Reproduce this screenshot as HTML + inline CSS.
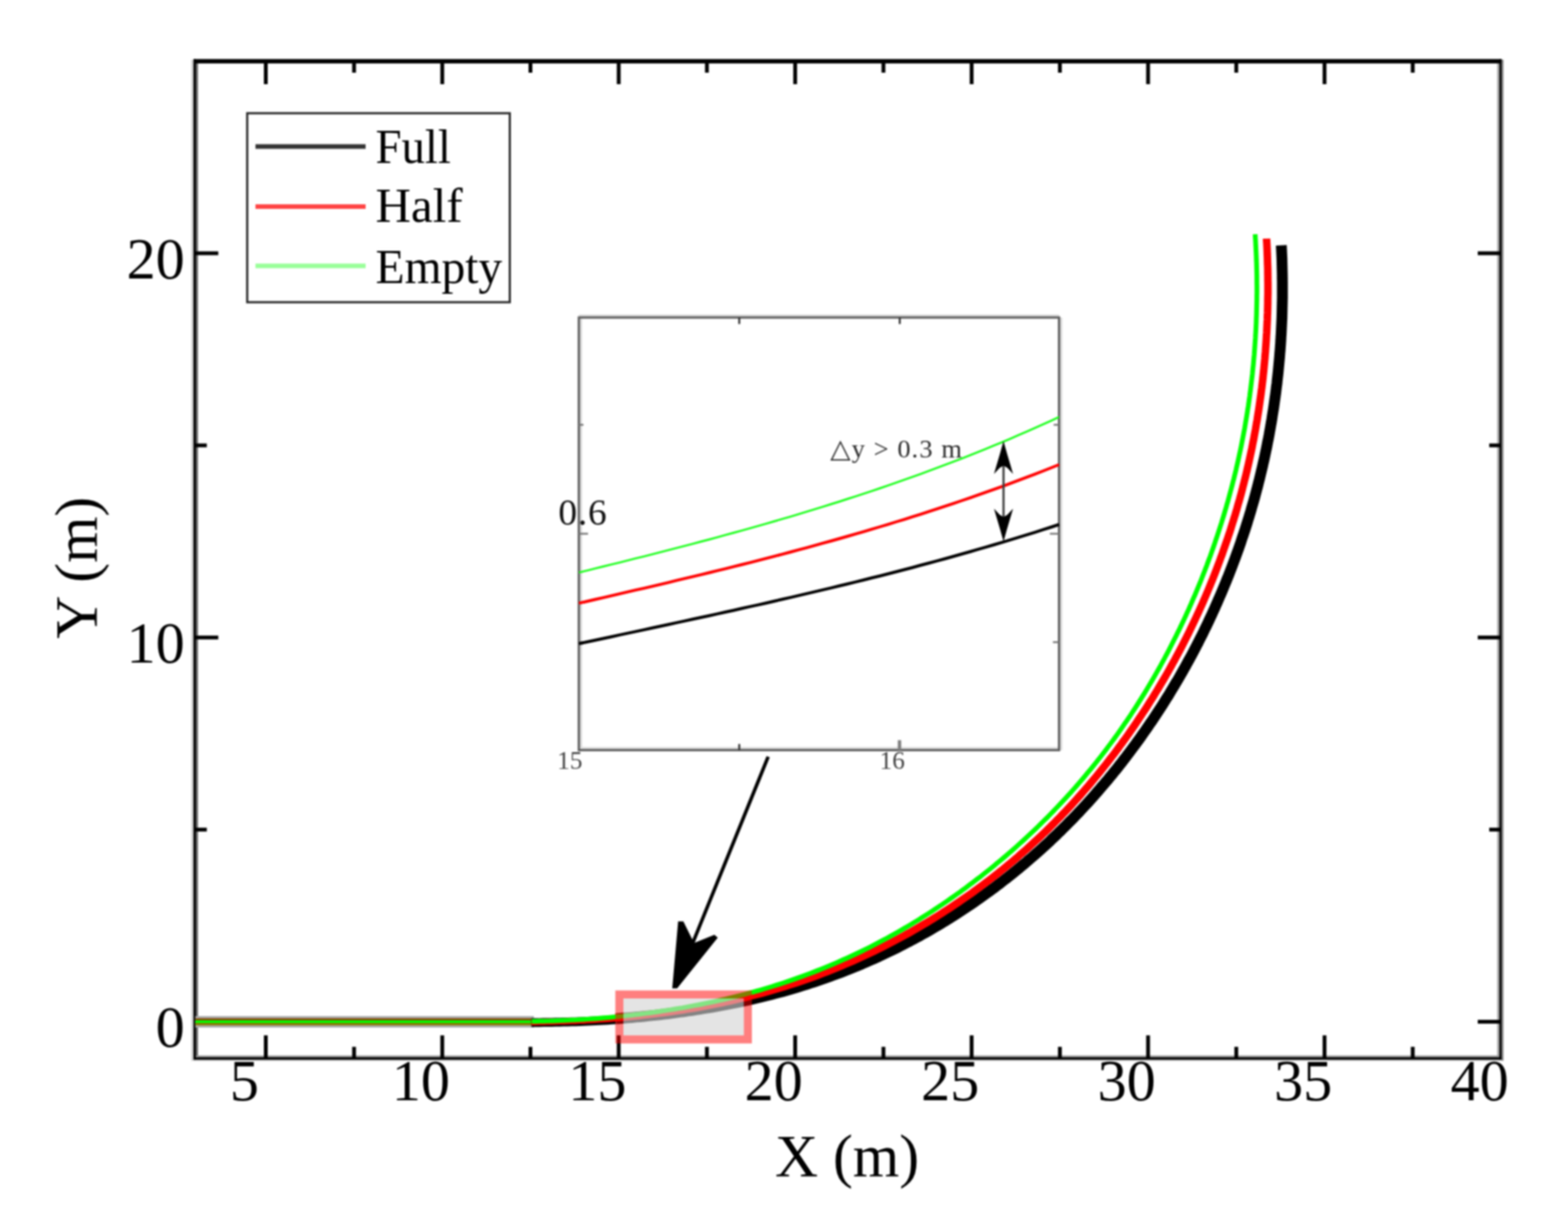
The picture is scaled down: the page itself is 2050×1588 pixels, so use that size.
<!DOCTYPE html>
<html lang="en">
<head>
<meta charset="utf-8">
<title>Trajectory plot</title>
<style>
html,body{margin:0;padding:0;background:#fff;}
body{width:2050px;height:1588px;overflow:hidden;}
svg{display:block;filter:blur(0.9px);}
</style>
</head>
<body>
<svg width="2050" height="1588" viewBox="0 0 2050 1588" role="img" aria-label="Vehicle trajectories for full, half and empty load">
<rect x="0" y="0" width="2050" height="1588" fill="#ffffff"/>
<g>
<rect x="250.1" y="78.0" width="3.0" height="1308.4" fill="#cccccc"/>
<rect x="255.9" y="80.0" width="3.0" height="1303.0" fill="#666666"/>
<rect x="1957.4" y="80.0" width="3.0" height="1303.0" fill="#a8a8a8"/>
<rect x="1963.1" y="78.0" width="2.6" height="1308.4" fill="#888888"/>
<rect x="253.0" y="1379.6" width="1710.2" height="2.5" fill="#8e8e8e"/>
<rect x="253.0" y="1384.8" width="1710.2" height="1.6" fill="#adadad"/>
<rect x="253.0" y="77.2" width="3.0" height="1307.7" fill="#000"/>
<rect x="1960.3" y="77.2" width="2.9" height="1307.7" fill="#000"/>
<rect x="253.0" y="1382.0" width="1710.2" height="2.9" fill="#000"/>
<rect x="253.0" y="77.2" width="1710.2" height="5.7" fill="#000"/>
</g>
<g stroke="#000" stroke-width="5.0">
<line x1="347.5" y1="1383.2" x2="347.5" y2="1353.2"/>
<line x1="347.5" y1="80.0" x2="347.5" y2="110.0"/>
<line x1="578.2" y1="1383.2" x2="578.2" y2="1353.2"/>
<line x1="578.2" y1="80.0" x2="578.2" y2="110.0"/>
<line x1="808.9" y1="1383.2" x2="808.9" y2="1353.2"/>
<line x1="808.9" y1="80.0" x2="808.9" y2="110.0"/>
<line x1="1039.6" y1="1383.2" x2="1039.6" y2="1353.2"/>
<line x1="1039.6" y1="80.0" x2="1039.6" y2="110.0"/>
<line x1="1270.3" y1="1383.2" x2="1270.3" y2="1353.2"/>
<line x1="1270.3" y1="80.0" x2="1270.3" y2="110.0"/>
<line x1="1501.0" y1="1383.2" x2="1501.0" y2="1353.2"/>
<line x1="1501.0" y1="80.0" x2="1501.0" y2="110.0"/>
<line x1="1731.7" y1="1383.2" x2="1731.7" y2="1353.2"/>
<line x1="1731.7" y1="80.0" x2="1731.7" y2="110.0"/>
<line x1="462.9" y1="1383.2" x2="462.9" y2="1368.2"/>
<line x1="462.9" y1="80.0" x2="462.9" y2="95.0"/>
<line x1="693.5" y1="1383.2" x2="693.5" y2="1368.2"/>
<line x1="693.5" y1="80.0" x2="693.5" y2="95.0"/>
<line x1="924.2" y1="1383.2" x2="924.2" y2="1368.2"/>
<line x1="924.2" y1="80.0" x2="924.2" y2="95.0"/>
<line x1="1155.0" y1="1383.2" x2="1155.0" y2="1368.2"/>
<line x1="1155.0" y1="80.0" x2="1155.0" y2="95.0"/>
<line x1="1385.7" y1="1383.2" x2="1385.7" y2="1368.2"/>
<line x1="1385.7" y1="80.0" x2="1385.7" y2="95.0"/>
<line x1="1616.3" y1="1383.2" x2="1616.3" y2="1368.2"/>
<line x1="1616.3" y1="80.0" x2="1616.3" y2="95.0"/>
<line x1="1847.0" y1="1383.2" x2="1847.0" y2="1368.2"/>
<line x1="1847.0" y1="80.0" x2="1847.0" y2="95.0"/>
<line x1="255.4" y1="1335.4" x2="285.4" y2="1335.4"/>
<line x1="1962.0" y1="1335.4" x2="1932.0" y2="1335.4"/>
<line x1="255.4" y1="833.2" x2="285.4" y2="833.2"/>
<line x1="1962.0" y1="833.2" x2="1932.0" y2="833.2"/>
<line x1="255.4" y1="331.0" x2="285.4" y2="331.0"/>
<line x1="1962.0" y1="331.0" x2="1932.0" y2="331.0"/>
<line x1="255.4" y1="1084.3" x2="270.4" y2="1084.3"/>
<line x1="1962.0" y1="1084.3" x2="1947.0" y2="1084.3"/>
<line x1="255.4" y1="582.1" x2="270.4" y2="582.1"/>
<line x1="1962.0" y1="582.1" x2="1947.0" y2="582.1"/>
</g>
<g>
<rect x="255.4" y="1328.0" width="442.6" height="15.0" fill="#aaaaaa"/>
<rect x="255.4" y="1331.0" width="442.6" height="3.0" fill="#884400"/>
<rect x="255.4" y="1333.6" width="442.6" height="3.9" fill="#00ff00"/>
<rect x="255.4" y="1337.0" width="442.6" height="3.0" fill="#887700"/>
</g>
<g fill="none" stroke-linejoin="round" stroke-linecap="butt">
<path d="M694.7 1336.5 L700.0 1336.4 L705.2 1336.4 L710.5 1336.3 L715.8 1336.2 L721.0 1336.2 L726.3 1336.0 L731.6 1335.9 L736.8 1335.8 L742.1 1335.7 L747.4 1335.5 L752.6 1335.4 L757.9 1335.2 L763.1 1335.0 L768.4 1334.8 L773.6 1334.5 L778.9 1334.3 L784.2 1334.0 L789.4 1333.7 L794.7 1333.4 L799.9 1333.0 L805.2 1332.7" stroke="#000000" stroke-width="11.5"/>
<path d="M805.2 1331.5 L810.4 1331.1 L815.7 1330.7 L820.9 1330.2 L826.2 1329.8 L831.4 1329.3 L836.7 1328.9 L841.9 1328.4 L847.2 1327.8 L852.4 1327.3 L857.6 1326.7 L862.9 1326.1 L868.1 1325.5 L873.3 1324.9 L878.6 1324.2 L883.8 1323.5 L889.0 1322.8 L894.2 1322.1 L899.5 1321.3 L904.7 1320.6 L909.9 1319.8 L915.1 1319.0 L920.3 1318.1 L925.5 1317.3 L930.7 1316.4 L935.9 1315.5 L941.1 1314.5 L946.3 1313.6 L951.5 1312.6 L956.6 1311.6 L961.8 1310.5 L967.0 1309.5 L972.2 1308.3 L977.3 1307.2 L982.5 1306.1 L987.6 1304.9 L992.8 1303.7 L997.9 1302.4 L1003.0 1301.2 L1008.2 1299.9 L1013.3 1298.5 L1018.4 1297.2 L1023.5 1295.8 L1028.6 1294.4 L1033.7 1292.9 L1038.8 1291.4 L1043.8 1289.9 L1048.9 1288.3 L1054.0 1286.8 L1059.0 1285.1 L1064.1 1283.5 L1069.1 1281.8 L1074.1 1280.1 L1079.1 1278.3 L1084.1 1276.6 L1089.1 1274.7 L1094.1 1272.9 L1099.1 1271.0 L1104.0 1269.1 L1109.0 1267.2 L1113.9 1265.2 L1118.9 1263.2 L1123.8 1261.1 L1127.5 1259.6 L1132.3 1257.5 L1137.2 1255.3 L1142.1 1253.2 L1145.8 1251.5 L1149.4 1249.9 L1154.2 1247.6 L1157.9 1245.9 L1161.5 1244.2 L1166.3 1241.9 L1169.9 1240.1 L1173.5 1238.3 L1177.1 1236.5 L1180.6 1234.7 L1184.2 1232.8 L1187.8 1231.0 L1191.3 1229.1 L1194.8 1227.2 L1198.4 1225.3 L1201.9 1223.4 L1205.4 1221.4 L1208.9 1219.5 L1212.4 1217.5 L1215.9 1215.5 L1219.4 1213.4 L1222.9 1211.4 L1226.4 1209.3 L1229.8 1207.3 L1233.3 1205.2 L1236.7 1203.1 L1240.2 1201.0 L1243.6 1198.8 L1247.0 1196.7 L1250.4 1194.5 L1253.8 1192.3 L1257.2 1190.1 L1260.5 1187.9 L1263.9 1185.6 L1267.3 1183.4 L1270.6 1181.1 L1274.0 1178.8 L1277.3 1176.5 L1280.6 1174.2 L1283.9 1171.8 L1287.2 1169.5 L1290.5 1167.1 L1293.8 1164.7 L1297.0 1162.3 L1300.3 1159.9 L1303.6 1157.4 L1306.8 1155.0 L1310.0 1152.5 L1313.2 1150.0 L1316.5 1147.5 L1319.6 1145.0 L1322.8 1142.4 L1326.0 1139.9 L1329.2 1137.3 L1332.3 1134.7 L1335.5 1132.1 L1338.6 1129.5 L1341.7 1126.9 L1344.8 1124.2 L1347.9 1121.5 L1351.0 1118.9 L1354.1 1116.2 L1357.1 1113.5 L1360.2 1110.7 L1363.2 1108.0 L1366.2 1105.2 L1369.3 1102.4 L1372.3 1099.7 L1375.2 1096.8 L1378.2 1094.0 L1381.2 1091.2 L1384.1 1088.3 L1387.1 1085.5 L1390.0 1082.6 L1392.9 1079.7 L1395.8 1076.8 L1398.7 1073.8 L1401.6 1070.9 L1404.5 1068.0 L1407.3 1065.0 L1410.2 1062.0 L1413.0 1059.0 L1415.8 1056.0 L1418.6 1053.0 L1421.4 1049.9 L1424.2 1046.9 L1426.9 1043.8 L1429.7 1040.7 L1432.4 1037.6 L1435.1 1034.5 L1437.8 1031.4 L1440.5 1028.2 L1443.2 1025.1 L1445.9 1021.9 L1448.6 1018.8 L1451.2 1015.6 L1453.8 1012.4 L1456.5 1009.1 L1459.1 1005.9 L1461.7 1002.7 L1464.2 999.4 L1466.8 996.2 L1469.3 992.9 L1471.9 989.6 L1474.4 986.3 L1476.9 983.0 L1479.4 979.6 L1481.9 976.3 L1484.4 973.0 L1486.8 969.6 L1489.3 966.2 L1491.7 962.8 L1494.1 959.4 L1496.5 956.0 L1498.9 952.6 L1501.3 949.2 L1503.6 945.7 L1506.0 942.3 L1508.3 938.8 L1510.6 935.3 L1512.9 931.8 L1515.2 928.3 L1517.5 924.8 L1519.8 921.3 L1522.0 917.8 L1524.2 914.2 L1526.5 910.7 L1528.7 907.1 L1530.8 903.5 L1533.0 899.9 L1535.2 896.3 L1537.3 892.7 L1539.5 889.1 L1541.6 885.5 L1543.7 881.8 L1545.8 878.2 L1547.8 874.5 L1549.9 870.9 L1551.9 867.2 L1553.9 863.5 L1556.0 859.8 L1558.0 856.1 L1559.9 852.4 L1561.9 848.6 L1563.8 844.9 L1565.8 841.2 L1567.7 837.4 L1569.6 833.6 L1571.5 829.9 L1573.4 826.1 L1575.2 822.3 L1577.1 818.5 L1578.9 814.7 L1580.7 810.9 L1582.5 807.0 L1584.3 803.2 L1586.0 799.4 L1587.8 795.5 L1589.5 791.7 L1591.2 787.8 L1592.9 783.9 L1594.6 780.0 L1596.3 776.1 L1598.0 772.2 L1599.6 768.3 L1601.2 764.4 L1602.8 760.5 L1604.4 756.5 L1606.0 752.6 L1607.5 748.7 L1609.1 744.7 L1610.6 740.7 L1612.1 736.8 L1613.6 732.8 L1615.1 728.8 L1616.5 724.8 L1618.0 720.8 L1619.4 716.8 L1620.8 712.8 L1622.2 708.8 L1623.5 704.7 L1624.9 700.7 L1626.2 696.7 L1627.6 692.6 L1628.9 688.5 L1630.2 684.5 L1631.4 680.4 L1632.7 676.4 L1633.9 672.3 L1635.2 668.2 L1636.3 664.1 L1637.5 660.0 L1638.7 655.9 L1639.9 651.8 L1641.0 647.7 L1642.1 643.5 L1643.2 639.4 L1644.3 635.3 L1645.3 631.1 L1646.4 627.0 L1647.4 622.9 L1648.4 618.7 L1649.4 614.5 L1650.4 610.4 L1651.3 606.2 L1652.3 602.0 L1653.2 597.9 L1654.1 593.7 L1655.0 589.5 L1655.9 585.3 L1656.7 581.1 L1657.5 576.9 L1658.4 572.7 L1659.2 568.5 L1659.9 564.3 L1660.7 560.0 L1661.4 555.8 L1662.2 551.6 L1662.9 547.4 L1663.5 543.1 L1664.2 538.9 L1664.9 534.7 L1665.5 530.4 L1666.1 526.2 L1666.7 522.0 L1667.3 517.7 L1667.9 513.5 L1668.4 509.2 L1668.9 504.9 L1669.5 500.7 L1669.9 496.4 L1670.4 492.1 L1670.9 487.9 L1671.3 483.6 L1671.7 479.3 L1672.1 475.1 L1672.5 470.8 L1672.9 466.5 L1673.2 462.2 L1673.6 457.9 L1673.9 453.7 L1674.2 449.4 L1674.5 445.1 L1674.7 440.8 L1675.0 436.5 L1675.2 432.2 L1675.4 427.9 L1675.6 423.6 L1675.8 419.4 L1676.0 415.1 L1676.1 410.8 L1676.2 406.5 L1676.3 402.2 L1676.4 397.9 L1676.5 393.6 L1676.6 389.3 L1676.6 385.0 L1676.6 380.7 L1676.6 376.4 L1676.6 372.1 L1676.6 367.8 L1676.5 363.5 L1676.5 359.2 L1676.4 354.9 L1676.3 350.6 L1676.2 346.3 L1676.1 342.0 L1676.0 337.7 L1675.8 333.4 L1675.6 329.1 L1675.4 324.9 L1675.2 320.6" stroke="#000000" stroke-width="14.2"/>
<path d="M694.9 1336.0 L700.1 1335.9 L705.3 1335.8 L710.6 1335.7 L715.8 1335.6 L721.0 1335.4 L726.3 1335.3 L731.5 1335.1 L736.7 1335.0 L742.0 1334.8 L747.2 1334.6 L752.4 1334.4 L757.6 1334.1 L762.9 1333.9 L768.1 1333.6 L773.3 1333.3 L778.6 1333.0 L783.8 1332.6 L789.0 1332.3 L794.2 1331.9 L799.5 1331.5 L804.7 1331.1 L809.9 1330.7" stroke="#ff0000" stroke-width="8.0"/>
<path d="M804.7 1330.2 L809.9 1329.8 L815.1 1329.3 L820.3 1328.8 L825.5 1328.3 L830.8 1327.8 L836.0 1327.3 L841.2 1326.7 L846.4 1326.1 L851.6 1325.5 L856.8 1324.9 L862.0 1324.2 L867.2 1323.6 L872.4 1322.9 L877.6 1322.1 L882.8 1321.4 L887.9 1320.6 L893.1 1319.8 L898.3 1319.0 L903.5 1318.1 L908.6 1317.3 L913.8 1316.4 L919.0 1315.4 L924.1 1314.5 L929.3 1313.5 L934.4 1312.5 L939.6 1311.5 L944.7 1310.4 L949.9 1309.3 L955.0 1308.2 L960.1 1307.0 L965.2 1305.8 L970.4 1304.6 L975.5 1303.4 L980.6 1302.1 L985.7 1300.8 L990.8 1299.5 L995.8 1298.2 L1000.9 1296.8 L1006.0 1295.3 L1011.0 1293.9 L1016.1 1292.4 L1021.1 1290.9 L1026.2 1289.3 L1031.2 1287.7 L1036.2 1286.1 L1041.2 1284.5 L1046.2 1282.8 L1051.2 1281.1 L1056.2 1279.3 L1061.2 1277.6 L1066.1 1275.8 L1071.1 1273.9 L1076.0 1272.0 L1081.0 1270.1 L1085.9 1268.2 L1090.8 1266.2 L1095.7 1264.2 L1100.6 1262.2 L1105.5 1260.1 L1110.3 1258.0 L1115.2 1255.9 L1120.0 1253.8 L1124.9 1251.6 L1129.7 1249.4 L1134.5 1247.1 L1139.3 1244.8 L1144.1 1242.5 L1148.9 1240.2 L1153.6 1237.8 L1158.4 1235.4 L1163.1 1233.0 L1167.8 1230.5 L1172.5 1228.0 L1177.2 1225.5 L1181.9 1223.0 L1186.6 1220.4 L1190.1 1218.4 L1194.7 1215.8 L1198.2 1213.8 L1201.6 1211.8 L1206.2 1209.1 L1209.7 1207.0 L1213.1 1205.0 L1216.5 1202.9 L1220.0 1200.8 L1223.4 1198.7 L1226.8 1196.5 L1230.2 1194.4 L1233.6 1192.2 L1236.9 1190.0 L1240.3 1187.8 L1243.7 1185.6 L1247.0 1183.4 L1250.3 1181.2 L1253.7 1178.9 L1257.0 1176.6 L1260.3 1174.3 L1263.6 1172.0 L1266.9 1169.7 L1270.2 1167.4 L1273.5 1165.0 L1276.7 1162.6 L1280.0 1160.2 L1283.2 1157.8 L1286.5 1155.4 L1289.7 1153.0 L1292.9 1150.5 L1296.1 1148.1 L1299.3 1145.6 L1302.5 1143.1 L1305.7 1140.6 L1308.8 1138.0 L1312.0 1135.5 L1315.1 1132.9 L1318.2 1130.4 L1321.4 1127.8 L1324.5 1125.2 L1327.6 1122.5 L1330.7 1119.9 L1333.7 1117.2 L1336.8 1114.5 L1339.8 1111.9 L1342.9 1109.2 L1345.9 1106.4 L1348.9 1103.7 L1351.9 1100.9 L1354.9 1098.2 L1357.9 1095.4 L1360.9 1092.6 L1363.8 1089.8 L1366.8 1086.9 L1369.7 1084.1 L1372.6 1081.2 L1375.5 1078.3 L1378.4 1075.5 L1381.2 1072.5 L1384.1 1069.6 L1387.0 1066.7 L1389.8 1063.7 L1392.6 1060.8 L1395.4 1057.8 L1398.2 1054.8 L1401.0 1051.8 L1403.8 1048.7 L1406.5 1045.7 L1409.3 1042.6 L1412.0 1039.6 L1414.7 1036.5 L1417.4 1033.4 L1420.1 1030.3 L1422.8 1027.2 L1425.5 1024.0 L1428.1 1020.9 L1430.8 1017.7 L1433.4 1014.5 L1436.0 1011.3 L1438.6 1008.1 L1441.2 1004.9 L1443.7 1001.7 L1446.3 998.5 L1448.8 995.2 L1451.4 991.9 L1453.9 988.6 L1456.4 985.4 L1458.9 982.1 L1461.4 978.8 L1463.8 975.4 L1466.3 972.1 L1468.7 968.7 L1471.2 965.4 L1473.6 962.0 L1476.0 958.6 L1478.3 955.2 L1480.7 951.8 L1483.1 948.4 L1485.4 945.0 L1487.7 941.5 L1490.0 938.1 L1492.3 934.6 L1494.6 931.1 L1496.9 927.7 L1499.2 924.2 L1501.4 920.7 L1503.6 917.1 L1505.9 913.6 L1508.1 910.1 L1510.2 906.5 L1512.4 903.0 L1514.6 899.4 L1516.7 895.8 L1518.8 892.2 L1521.0 888.6 L1523.1 885.0 L1525.2 881.4 L1527.2 877.8 L1529.3 874.1 L1531.3 870.5 L1533.3 866.8 L1535.4 863.2 L1537.3 859.5 L1539.3 855.8 L1541.3 852.1 L1543.3 848.4 L1545.2 844.7 L1547.1 841.0 L1549.0 837.2 L1550.9 833.5 L1552.8 829.7 L1554.7 826.0 L1556.5 822.2 L1558.3 818.4 L1560.1 814.6 L1561.9 810.8 L1563.7 807.0 L1565.5 803.2 L1567.2 799.4 L1569.0 795.5 L1570.7 791.7 L1572.4 787.9 L1574.1 784.0 L1575.8 780.1 L1577.4 776.3 L1579.1 772.4 L1580.7 768.5 L1582.3 764.6 L1583.9 760.7 L1585.5 756.8 L1587.0 752.9 L1588.6 748.9 L1590.1 745.0 L1591.6 741.0 L1593.1 737.1 L1594.6 733.1 L1596.0 729.2 L1597.5 725.2 L1598.9 721.2 L1600.3 717.2 L1601.7 713.2 L1603.1 709.2 L1604.5 705.2 L1605.8 701.2 L1607.2 697.2 L1608.5 693.2 L1609.8 689.1 L1611.0 685.1 L1612.3 681.1 L1613.5 677.0 L1614.8 673.0 L1616.0 668.9 L1617.2 664.8 L1618.3 660.7 L1619.5 656.7 L1620.7 652.6 L1621.8 648.5 L1622.9 644.4 L1624.0 640.3 L1625.0 636.2 L1626.1 632.0 L1627.1 627.9 L1628.2 623.8 L1629.2 619.7 L1630.2 615.5 L1631.1 611.4 L1632.1 607.2 L1633.0 603.1 L1633.9 599.0 L1634.8 594.8 L1635.7 590.6 L1636.6 586.5 L1637.4 582.3 L1638.2 578.1 L1639.1 573.9 L1639.8 569.7 L1640.6 565.6 L1641.4 561.4 L1642.1 557.2 L1642.8 553.0 L1643.6 548.8 L1644.2 544.6 L1644.9 540.4 L1645.6 536.1 L1646.2 531.9 L1646.8 527.7 L1647.4 523.5 L1648.0 519.3 L1648.6 515.0 L1649.1 510.8 L1649.7 506.6 L1650.2 502.3 L1650.7 498.1 L1651.2 493.9 L1651.6 489.6 L1652.1 485.4 L1652.5 481.1 L1652.9 476.9 L1653.3 472.6 L1653.7 468.4 L1654.0 464.1 L1654.4 459.9 L1654.7 455.6 L1655.0 451.3 L1655.3 447.1 L1655.6 442.8 L1655.8 438.6 L1656.1 434.3 L1656.3 430.0 L1656.5 425.8 L1656.7 421.5 L1656.9 417.2 L1657.0 412.9 L1657.2 408.7 L1657.3 404.4 L1657.4 400.1 L1657.5 395.9 L1657.5 391.6 L1657.6 387.3 L1657.7 383.1 L1657.7 378.8 L1657.7 374.5 L1657.7 370.2 L1657.6 366.0 L1657.6 361.7 L1657.5 357.4 L1657.5 353.1 L1657.4 348.9 L1657.2 344.6 L1657.1 340.3 L1657.0 336.1 L1656.8 331.8 L1656.7 327.5 L1656.5 323.3 L1656.3 319.0 L1656.0 314.7 L1655.9 311.9" stroke="#ff0000" stroke-width="9.8"/>
<path d="M695.3 1334.9 L700.5 1334.8 L705.7 1334.7 L710.9 1334.6 L716.1 1334.5 L721.3 1334.3 L726.5 1334.1 L731.7 1333.9 L736.9 1333.7 L742.1 1333.5 L747.3 1333.2 L752.5 1333.0 L757.7 1332.7 L762.9 1332.3 L768.1 1332.0 L773.3 1331.7 L778.5 1331.3 L783.7 1330.9 L788.9 1330.4 L794.1 1330.0 L799.3 1329.5 L804.5 1329.0 L809.7 1328.5" stroke="#00ff00" stroke-width="6.2"/>
<path d="M804.5 1329.0 L809.7 1328.5 L814.9 1328.0 L820.0 1327.4 L825.2 1326.8 L830.4 1326.2 L835.6 1325.6 L840.7 1325.0 L845.9 1324.3 L851.1 1323.6 L856.2 1322.9 L861.4 1322.1 L866.6 1321.3 L871.7 1320.5 L876.9 1319.7 L882.0 1318.9 L887.2 1318.0 L892.3 1317.2 L897.5 1316.2 L902.6 1315.3 L907.7 1314.3 L912.9 1313.4 L918.0 1312.4 L923.1 1311.3 L928.2 1310.3 L933.3 1309.2 L938.4 1308.0 L943.5 1306.9 L948.6 1305.7 L953.7 1304.5 L958.8 1303.3 L963.9 1302.0 L969.0 1300.8 L974.0 1299.5 L979.1 1298.1 L984.1 1296.7 L989.2 1295.3 L994.2 1293.9 L999.2 1292.4 L1004.3 1290.9 L1009.3 1289.4 L1014.3 1287.8 L1019.3 1286.2 L1024.3 1284.6 L1029.2 1283.0 L1034.2 1281.3 L1039.2 1279.5 L1044.1 1277.8 L1049.1 1276.0 L1054.0 1274.2 L1058.9 1272.3 L1063.8 1270.5 L1068.8 1268.5 L1073.6 1266.6 L1078.5 1264.6 L1083.4 1262.6 L1088.2 1260.6 L1093.1 1258.5 L1097.9 1256.4 L1102.8 1254.2 L1107.6 1252.1 L1112.4 1249.9 L1117.2 1247.6 L1121.9 1245.4 L1126.7 1243.1 L1131.4 1240.8 L1136.2 1238.4 L1140.9 1236.0 L1145.6 1233.6 L1150.3 1231.1 L1155.0 1228.6 L1159.6 1226.1 L1164.3 1223.5 L1168.9 1221.0 L1173.5 1218.3 L1178.1 1215.7 L1182.7 1213.0 L1187.3 1210.3 L1191.9 1207.6 L1196.4 1204.8 L1201.0 1202.1 L1205.5 1199.2 L1210.0 1196.4 L1214.5 1193.5 L1219.0 1190.6 L1223.4 1187.7 L1227.8 1184.7 L1231.2 1182.5 L1234.5 1180.2 L1238.9 1177.2 L1242.2 1174.9 L1245.5 1172.6 L1248.8 1170.3 L1252.0 1168.0 L1255.3 1165.7 L1258.5 1163.3 L1261.8 1160.9 L1265.0 1158.5 L1268.2 1156.1 L1271.4 1153.7 L1274.6 1151.3 L1277.8 1148.8 L1281.0 1146.4 L1284.2 1143.9 L1287.3 1141.4 L1290.5 1138.9 L1293.7 1136.4 L1296.8 1133.9 L1299.9 1131.3 L1303.0 1128.7 L1306.1 1126.2 L1309.2 1123.6 L1312.3 1121.0 L1315.4 1118.3 L1318.5 1115.7 L1321.5 1113.1 L1324.6 1110.4 L1327.6 1107.7 L1330.6 1105.0 L1333.6 1102.3 L1336.6 1099.6 L1339.6 1096.9 L1342.6 1094.1 L1345.6 1091.3 L1348.5 1088.6 L1351.5 1085.8 L1354.4 1083.0 L1357.3 1080.1 L1360.2 1077.3 L1363.1 1074.4 L1366.0 1071.6 L1368.9 1068.7 L1371.7 1065.8 L1374.6 1062.9 L1377.4 1060.0 L1380.2 1057.0 L1383.0 1054.1 L1385.8 1051.1 L1388.6 1048.1 L1391.4 1045.1 L1394.2 1042.1 L1396.9 1039.1 L1399.7 1036.1 L1402.4 1033.0 L1405.1 1030.0 L1407.8 1026.9 L1410.5 1023.8 L1413.1 1020.7 L1415.8 1017.6 L1418.4 1014.5 L1421.0 1011.3 L1423.7 1008.1 L1426.3 1005.0 L1428.9 1001.8 L1431.4 998.6 L1434.0 995.4 L1436.5 992.1 L1439.1 988.9 L1441.6 985.7 L1444.1 982.4 L1446.6 979.1 L1449.0 975.8 L1451.5 972.5 L1453.9 969.2 L1456.4 965.9 L1458.8 962.5 L1461.2 959.2 L1463.6 955.8 L1465.9 952.4 L1468.3 949.0 L1470.6 945.6 L1473.0 942.2 L1475.3 938.8 L1477.6 935.4 L1479.9 931.9 L1482.1 928.5 L1484.4 925.0 L1486.6 921.5 L1488.8 918.0 L1491.0 914.5 L1493.2 911.0 L1495.4 907.5 L1497.6 903.9 L1499.7 900.4 L1501.8 896.8 L1504.0 893.2 L1506.1 889.6 L1508.2 886.0 L1510.2 882.4 L1512.3 878.8 L1514.3 875.2 L1516.4 871.6 L1518.4 867.9 L1520.4 864.3 L1522.4 860.6 L1524.3 856.9 L1526.3 853.3 L1528.2 849.6 L1530.1 845.9 L1532.0 842.2 L1533.9 838.4 L1535.8 834.7 L1537.7 831.0 L1539.5 827.2 L1541.4 823.5 L1543.2 819.7 L1545.0 815.9 L1546.8 812.2 L1548.5 808.4 L1550.3 804.6 L1552.0 800.8 L1553.8 797.0 L1555.5 793.1 L1557.2 789.3 L1558.8 785.5 L1560.5 781.6 L1562.2 777.8 L1563.8 773.9 L1565.4 770.0 L1567.0 766.1 L1568.6 762.3 L1570.2 758.4 L1571.7 754.5 L1573.2 750.6 L1574.8 746.6 L1576.3 742.7 L1577.8 738.8 L1579.2 734.9 L1580.7 730.9 L1582.2 727.0 L1583.6 723.0 L1585.0 719.0 L1586.4 715.1 L1587.8 711.1 L1589.1 707.1 L1590.5 703.1 L1591.8 699.1 L1593.1 695.1 L1594.4 691.1 L1595.7 687.1 L1597.0 683.1 L1598.2 679.1 L1599.5 675.0 L1600.7 671.0 L1601.9 666.9 L1603.1 662.9 L1604.2 658.8 L1605.4 654.8 L1606.5 650.7 L1607.6 646.6 L1608.7 642.5 L1609.8 638.5 L1610.9 634.4 L1611.9 630.3 L1613.0 626.2 L1614.0 622.1 L1615.0 618.0 L1616.0 613.9 L1616.9 609.7 L1617.9 605.6 L1618.8 601.5 L1619.7 597.4 L1620.6 593.2 L1621.5 589.1 L1622.4 584.9 L1623.2 580.8 L1624.0 576.6 L1624.8 572.5 L1625.6 568.3 L1626.4 564.1 L1627.2 560.0 L1627.9 555.8 L1628.6 551.6 L1629.3 547.4 L1630.0 543.2 L1630.7 539.0 L1631.3 534.9 L1632.0 530.7 L1632.6 526.5 L1633.2 522.3 L1633.8 518.1 L1634.3 513.9 L1634.9 509.6 L1635.4 505.4 L1635.9 501.2 L1636.4 497.0 L1636.9 492.8 L1637.4 488.6 L1637.8 484.3 L1638.2 480.1 L1638.7 475.9 L1639.0 471.7 L1639.4 467.4 L1639.8 463.2 L1640.1 459.0 L1640.4 454.7 L1640.7 450.5 L1641.0 446.2 L1641.3 442.0 L1641.5 437.8 L1641.8 433.5 L1642.0 429.3 L1642.2 425.0 L1642.4 420.8 L1642.5 416.5 L1642.7 412.3 L1642.8 408.0 L1642.9 403.8 L1643.0 399.5 L1643.1 395.3 L1643.2 391.0 L1643.2 386.8 L1643.3 382.5 L1643.3 378.3 L1643.3 374.0 L1643.2 369.8 L1643.2 365.5 L1643.2 361.3 L1643.1 357.0 L1643.0 352.8 L1642.9 348.5 L1642.8 344.3 L1642.6 340.0 L1642.5 335.8 L1642.3 331.5 L1642.1 327.3 L1641.9 323.0 L1641.7 318.8 L1641.5 314.6 L1641.2 310.3 L1641.0 306.1" stroke="#00ff00" stroke-width="6.2"/>
</g>
<rect x="815.0" y="1305.0" width="157.5" height="48.2" fill="#d4d4d4" fill-opacity="0.62"/>
<path fill-rule="evenodd" fill="#ff0000" fill-opacity="0.5" d="M804.5 1294.5 H983.0 V1363.7 H804.5 Z M815.0 1305.0 H972.5 V1353.2 H815.0 Z"/>
<g font-family='"Liberation Serif", "DejaVu Serif", serif' font-size="76" fill="#000" text-anchor="middle">
<text x="319.5" y="1437.9">5</text>
<text x="550.2" y="1437.9">10</text>
<text x="780.9" y="1437.9">15</text>
<text x="1011.6" y="1437.9">20</text>
<text x="1242.3" y="1437.9">25</text>
<text x="1473.0" y="1437.9">30</text>
<text x="1703.7" y="1437.9">35</text>
<text x="1934.4" y="1437.9">40</text>
</g>
<g font-family='"Liberation Serif", "DejaVu Serif", serif' font-size="76" fill="#000" text-anchor="end">
<text x="241.5" y="1368.3">0</text>
<text x="241.5" y="866.1">10</text>
<text x="241.5" y="363.9">20</text>
</g>
<text x="1107.5" y="1537" font-family='"Liberation Serif", "DejaVu Serif", serif' font-size="78" fill="#000" text-anchor="middle">X (m)</text>
<text transform="translate(125.5 742) rotate(-90)" font-family='"Liberation Serif", "DejaVu Serif", serif' font-size="78" fill="#000" text-anchor="middle">Y (m)</text>
<rect x="323.2" y="148" width="343.3" height="247" fill="#fff" stroke="#262626" stroke-width="2.8"/>
<line x1="334" y1="191.5" x2="478" y2="191.5" stroke="#333333" stroke-width="6"/>
<line x1="334" y1="270" x2="478" y2="270" stroke="#ff4444" stroke-width="6"/>
<line x1="334" y1="347.5" x2="478" y2="347.5" stroke="#99ff99" stroke-width="6"/>
<g font-family='"Liberation Serif", "DejaVu Serif", serif' font-size="64" fill="#000">
<text x="491" y="212.5" textLength="98.5" lengthAdjust="spacingAndGlyphs">Full</text>
<text x="491" y="290">Half</text>
<text x="491" y="370" textLength="165.6" lengthAdjust="spacingAndGlyphs">Empty</text>
</g>
<rect x="756.8" y="415.0" width="627.8" height="565.4" fill="#fff" stroke="none"/>
<g stroke="#dcdcdc" stroke-width="3" fill="none">
<line x1="759.6" y1="415.0" x2="759.6" y2="980.4"/>
<line x1="1387.4" y1="415.0" x2="1387.4" y2="980.4"/>
<line x1="756.8" y1="412.4" x2="1384.6" y2="412.4"/>
<line x1="756.8" y1="977.8" x2="1384.6" y2="977.8"/>
</g>
<rect x="756.8" y="415.0" width="627.8" height="565.4" fill="none" stroke="#5e5e5e" stroke-width="3"/>
<g stroke="#333" stroke-width="2.6">
<line x1="966.5" y1="415.0" x2="966.5" y2="423.5"/>
<line x1="1176.3" y1="415.0" x2="1176.3" y2="423.5"/>
<line x1="966.5" y1="980.4" x2="966.5" y2="972.4"/>
</g>
<line x1="1176" y1="980.4" x2="1176" y2="967.4" stroke="#808080" stroke-width="4.5"/>
<g stroke="#777" stroke-width="2.4">
<line x1="756.8" y1="555.2" x2="762.8" y2="555.2"/>
<line x1="1384.6" y1="555.2" x2="1377.6" y2="555.2"/>
<line x1="756.8" y1="697.6" x2="768.8" y2="697.6"/>
<line x1="1384.6" y1="697.6" x2="1372.6" y2="697.6"/>
<line x1="756.8" y1="839.3" x2="762.8" y2="839.3"/>
<line x1="1384.6" y1="839.3" x2="1376.6" y2="839.3"/>
</g>
<path d="M756.8 748.2 L767.4 745.7 L778.1 743.0 L788.7 740.4 L799.4 737.8 L810.0 735.2 L820.6 732.5 L831.3 729.8 L841.9 727.2 L852.6 724.5 L863.2 721.8 L873.8 719.0 L884.5 716.3 L895.1 713.5 L905.8 710.7 L916.4 707.9 L927.1 705.1 L937.7 702.2 L948.3 699.3 L959.0 696.4 L969.6 693.5 L980.3 690.5 L990.9 687.5 L1001.5 684.5 L1012.2 681.4 L1022.8 678.3 L1033.5 675.2 L1044.1 672.0 L1054.7 668.8 L1065.4 665.5 L1076.0 662.2 L1086.7 658.9 L1097.3 655.6 L1107.9 652.1 L1118.6 648.7 L1129.2 645.2 L1139.9 641.7 L1150.5 638.1 L1161.1 634.4 L1171.8 630.7 L1182.4 627.0 L1193.1 623.2 L1203.7 619.4 L1214.3 615.5 L1225.0 611.5 L1235.6 607.5 L1246.3 603.5 L1256.9 599.4 L1267.6 595.2 L1278.2 591.0 L1288.8 586.7 L1299.5 582.3 L1310.1 577.9 L1320.8 573.4 L1331.4 568.8 L1342.0 564.2 L1352.7 559.5 L1363.3 554.8 L1374.0 549.9 L1384.6 545.0" fill="none" stroke="#1aff1a" stroke-width="2.7"/>
<path d="M756.8 788.4 L767.4 786.0 L778.1 783.5 L788.7 781.1 L799.4 778.6 L810.0 776.2 L820.6 773.7 L831.3 771.2 L841.9 768.8 L852.6 766.3 L863.2 763.8 L873.8 761.3 L884.5 758.7 L895.1 756.2 L905.8 753.6 L916.4 751.1 L927.1 748.5 L937.7 745.9 L948.3 743.3 L959.0 740.6 L969.6 738.0 L980.3 735.3 L990.9 732.6 L1001.5 729.8 L1012.2 727.1 L1022.8 724.3 L1033.5 721.5 L1044.1 718.6 L1054.7 715.8 L1065.4 712.9 L1076.0 709.9 L1086.7 707.0 L1097.3 704.0 L1107.9 701.0 L1118.6 697.9 L1129.2 694.8 L1139.9 691.7 L1150.5 688.5 L1161.1 685.3 L1171.8 682.0 L1182.4 678.8 L1193.1 675.4 L1203.7 672.1 L1214.3 668.6 L1225.0 665.2 L1235.6 661.7 L1246.3 658.1 L1256.9 654.5 L1267.6 650.9 L1278.2 647.2 L1288.8 643.4 L1299.5 639.6 L1310.1 635.8 L1320.8 631.9 L1331.4 627.9 L1342.0 623.9 L1352.7 619.9 L1363.3 615.7 L1374.0 611.5 L1384.6 607.3" fill="none" stroke="#ff0000" stroke-width="3.9"/>
<path d="M756.8 841.3 L767.4 839.0 L778.1 836.8 L788.7 834.5 L799.4 832.2 L810.0 829.9 L820.6 827.6 L831.3 825.4 L841.9 823.1 L852.6 820.8 L863.2 818.5 L873.8 816.2 L884.5 813.9 L895.1 811.6 L905.8 809.3 L916.4 807.0 L927.1 804.7 L937.7 802.4 L948.3 800.0 L959.0 797.7 L969.6 795.3 L980.3 792.9 L990.9 790.6 L1001.5 788.2 L1012.2 785.7 L1022.8 783.3 L1033.5 780.9 L1044.1 778.4 L1054.7 775.9 L1065.4 773.4 L1076.0 770.9 L1086.7 768.4 L1097.3 765.8 L1107.9 763.2 L1118.6 760.6 L1129.2 758.0 L1139.9 755.3 L1150.5 752.7 L1161.1 750.0 L1171.8 747.2 L1182.4 744.5 L1193.1 741.7 L1203.7 738.8 L1214.3 736.0 L1225.0 733.1 L1235.6 730.2 L1246.3 727.2 L1256.9 724.3 L1267.6 721.3 L1278.2 718.2 L1288.8 715.1 L1299.5 712.0 L1310.1 708.8 L1320.8 705.6 L1331.4 702.4 L1342.0 699.1 L1352.7 695.8 L1363.3 692.4 L1374.0 689.0 L1384.6 685.5" fill="none" stroke="#000000" stroke-width="4.0"/>
<text x="730" y="685.5" font-family='"Liberation Serif", "DejaVu Serif", serif' font-size="49" fill="#111" letter-spacing="1">0.6</text>
<text x="728.5" y="1005" font-family='"Liberation Serif", "DejaVu Serif", serif' font-size="33" fill="#444">15</text>
<text x="1150" y="1005" font-family='"Liberation Serif", "DejaVu Serif", serif' font-size="33" fill="#444">16</text>
<text x="1085.5" y="597.5" font-family='"Liberation Serif", "DejaVu Serif", serif' font-size="34.5" fill="#2a2a2a" textLength="172" lengthAdjust="spacing">△y &gt; 0.3 m</text>
<line x1="1312.0" y1="601.4" x2="1312.0" y2="682.8" stroke="#3a3a3a" stroke-width="2.8"/>
<path d="M1312.0 576.4 L1316.5 592.4 L1324.5 619.4 L1317.0 611.4 L1312.0 608.4 L1307.0 611.4 L1299.5 619.4 L1307.5 592.4 Z" fill="#000"/>
<path d="M1312.0 707.8 L1316.5 691.8 L1324.5 664.8 L1317.0 672.8 L1312.0 675.8 L1307.0 672.8 L1299.5 664.8 L1307.5 691.8 Z" fill="#000"/>
<line x1="1004.3" y1="989" x2="905.5" y2="1233" stroke="#000" stroke-width="4.6"/>
<path d="M878.9 1291.8 L886.6 1204.2 L893.4 1204.2 L907.4 1232.6 L934 1221.8 L938.4 1225.4 L885.3 1291.8 Z" fill="#000"/>
</svg>
</body>
</html>
